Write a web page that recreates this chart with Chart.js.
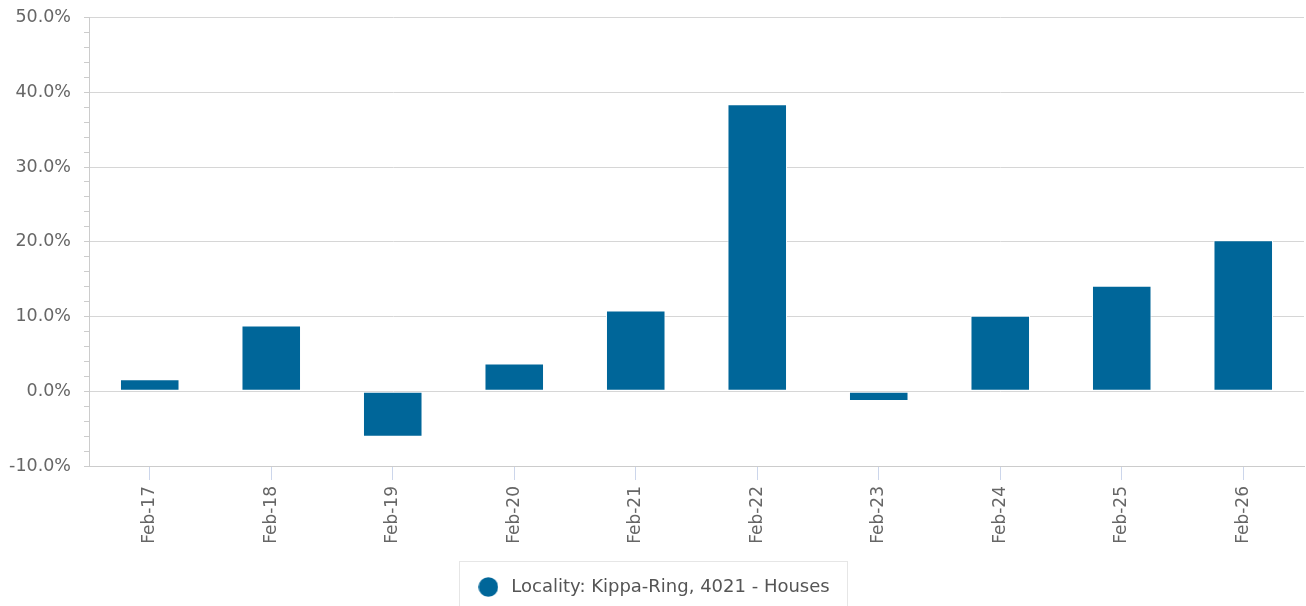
<!DOCTYPE html>
<html>
<head>
<meta charset="utf-8">
<script src="https://cdn.jsdelivr.net/npm/chart.js@4.4.1/dist/chart.umd.min.js"></script>
<style>
html,body{margin:0;padding:0;background:#fff;}
#wrap{width:1306px;height:606px;position:relative;}
</style>
</head>
<body>
<div id="wrap"><canvas id="c" width="1306" height="606"></canvas></div>
<script>
const categories = ['Feb-17','Feb-18','Feb-19','Feb-20','Feb-21','Feb-22','Feb-23','Feb-24','Feb-25','Feb-26'];
const growthValues = [1.6, 8.8, -6.1, 3.7, 10.8, 38.4, -1.3, 10.1, 14.1, 20.2];
const seriesName = 'Locality: Kippa-Ring, 4021 - Houses';
const yMin = -10, yMax = 50, yMinorStep = 2, yMajorStep = 10;

const FONT = 'DejaVu Sans';
const BAR_COLOR = '#006699';

// legend marker: filled circle
const marker = document.createElement('canvas');
marker.width = 20; marker.height = 20;
(function(){
  const m = marker.getContext('2d');
  m.fillStyle = BAR_COLOR;
  m.beginPath(); m.arc(10, 10, 9.8, 0, Math.PI * 2); m.fill();
})();

const legendBox = {
  id: 'legendBox',
  afterDraw(chart) {
    const lg = chart.legend;
    if (!lg || !lg.legendHitBoxes || !lg.legendHitBoxes.length) return;
    const hb = lg.legendHitBoxes[0];
    const ctx = chart.ctx;
    ctx.save();
    ctx.strokeStyle = '#e6e6e6';
    ctx.lineWidth = 1;
    ctx.strokeRect(Math.round(hb.left - 15) + 0.5, Math.round(lg.top - 5) + 0.5, Math.round(hb.width + 33), 80);
    ctx.restore();
  }
};

new Chart(document.getElementById('c'), {
  type: 'bar',
  data: {
    labels: categories,
    datasets: [{
      label: seriesName,
      data: growthValues,
      backgroundColor: BAR_COLOR,
      borderColor: '#ffffff',
      borderWidth: 1,
      borderSkipped: false,
      barPercentage: 0.49,
      categoryPercentage: 1.0,
      pointStyle: marker
    }]
  },
  options: {
    responsive: false,
    animation: false,
    layout: { padding: { top: 0, right: 2, left: 0, bottom: 0 } },
    plugins: {
      tooltip: { enabled: false },
      legend: {
        position: 'bottom',
        labels: {
          usePointStyle: true,
          pointStyle: marker,
          pointStyleWidth: 28,
          boxHeight: 14,
          boxWidth: 28,
          padding: 12,
          color: '#555555',
          font: { family: FONT, size: 18 }
        }
      }
    },
    scales: {
      x: {
        offset: true,
        grid: {
          offset: false,
          drawOnChartArea: false,
          drawTicks: true,
          tickLength: 14,
          tickColor: '#ccd6eb'
        },
        border: { display: true, color: '#cccccc' },
        ticks: {
          minRotation: 90,
          maxRotation: 90,
          autoSkip: false,
          padding: 6,
          color: '#666666',
          font: { family: FONT, size: 17 }
        },
        afterFit(scale) { scale.height = 100; }
      },
      y: {
        min: yMin,
        max: yMax,
        grid: {
          color: (c) => (Math.round(c.tick.value) % yMajorStep === 0 ? '#d6d6d6' : 'rgba(0,0,0,0)'),
          tickColor: '#cccccc',
          tickLength: 5,
          drawTicks: true
        },
        border: { display: true, color: '#cccccc' },
        ticks: {
          stepSize: yMinorStep,
          autoSkip: false,
          padding: 13,
          color: '#666666',
          font: { family: FONT, size: 17.5 },
          callback: (v) => (Math.round(v) % yMajorStep === 0 ? Number(v).toFixed(1) + '%' : '')
        },
        afterFit(scale) { scale.width = 89; scale.paddingTop = 17.5; scale.paddingBottom = 0; }
      }
    }
  },
  plugins: [legendBox]
});
</script>
</body>
</html>
